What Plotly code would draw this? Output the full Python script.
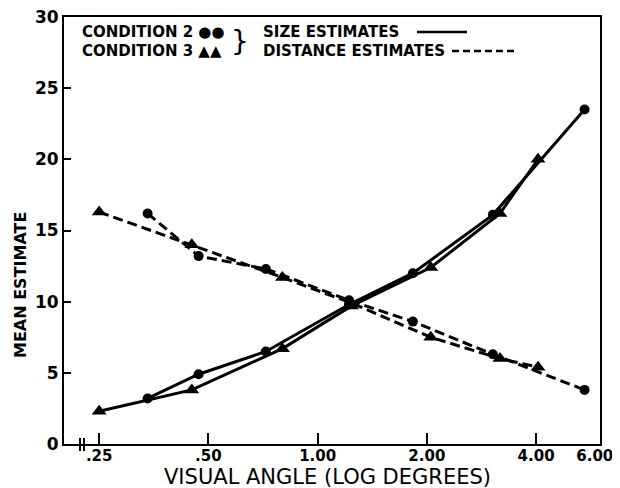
import plotly.graph_objects as go

# Condition 2 (circles)
cond2_angle = [0.34, 0.47, 0.72, 1.22, 1.83, 3.04, 5.44]
cond2_size = [3.2, 4.9, 6.5, 9.8, 12.0, 16.1, 23.5]
cond2_distance = [16.2, 13.2, 12.3, 10.1, 8.6, 6.3, 3.8]

# Condition 3 (triangles)
cond3_angle = [0.25, 0.45, 0.80, 1.24, 2.05, 3.18, 4.05]
cond3_size = [2.3, 3.8, 6.7, 9.7, 12.4, 16.2, 20.0]
cond3_distance = [16.3, 14.0, 11.7, 9.9, 7.5, 6.0, 5.4]

x_tickvals = [0.25, 0.5, 1.0, 2.0, 4.0, 6.0]
x_ticktext = [".25", ".50", "1.00", "2.00", "4.00", "6.00\u00a0\u00a0"]
y_tickvals = [0, 5, 10, 15, 20, 25, 30]

FONT = "DejaVu Sans"
fig = go.Figure()

def add(x, y, dash, symbol, size):
    fig.add_trace(go.Scatter(
        x=x, y=y, mode="lines+markers",
        line=dict(color="black", width=3, dash=dash),
        marker=dict(symbol=symbol, size=size, color="black"),
        showlegend=False))

add(cond2_angle, cond2_size, "solid", "circle", 10)
add(cond3_angle, cond3_size, "solid", "triangle-up", 13)
add(cond2_angle, cond2_distance, "10px,5px", "circle", 10)
add(cond3_angle, cond3_distance, "10px,5px", "triangle-up", 13)

# page offset (body margin) compensation
OFF = 8
W, H = 620 - OFF, 488 - OFF
# target page-pixel plot box
PL, PR, PT, PB = 64, 600, 17, 444
L, T = PL - OFF, PT - OFF
R = W - (PR - OFF)
B = H - (PB - OFF)
pw, ph = W - L - R, H - T - B

def px(xp):
    return (xp - OFF - L) / pw
def py(yp):
    return (H - B - (yp - OFF)) / ph

fig.update_layout(
    width=W, height=H,
    margin=dict(l=L, r=R, t=T, b=B, autoexpand=False),
    plot_bgcolor="white", paper_bgcolor="white",
    xaxis=dict(type="log", range=[-0.69897, 0.778151],
               tickvals=x_tickvals, ticktext=x_ticktext,
               ticks="inside", ticklen=11, tickwidth=2, tickcolor="black",
               showline=True, linewidth=2, linecolor="black", mirror=True,
               showgrid=False, zeroline=False, ticklabelstandoff=-3,
               ticklabeloverflow="allow",
               tickfont=dict(family=FONT, size=15, color="black", weight="bold")),
    yaxis=dict(range=[0, 30], tickvals=y_tickvals,
               ticks="inside", ticklen=7, tickwidth=2, tickcolor="black",
               showline=True, linewidth=2, linecolor="black", mirror=True,
               showgrid=False, zeroline=False, ticklabeloverflow="allow",
               tickfont=dict(family=FONT, size=17, color="black", weight="bold")),
)

lf = dict(family=FONT, size=15, color="black", weight="bold")
ann = [
    dict(text="CONDITION 2 ●●", x=px(80), y=py(32), xanchor="left", yanchor="middle", font=lf),
    dict(text="CONDITION 3 ▲▲", x=px(80), y=py(51), xanchor="left", yanchor="middle", font=lf),
    dict(text="}", x=px(240), y=py(42), xanchor="center", yanchor="middle",
         font=dict(family=FONT, size=28, color="black")),
    dict(text="SIZE ESTIMATES", x=px(261), y=py(32), xanchor="left", yanchor="middle", font=lf),
    dict(text="DISTANCE ESTIMATES", x=px(261), y=py(51), xanchor="left", yanchor="middle", font=lf),
    dict(text="MEAN ESTIMATE", x=px(20), y=py(285), textangle=-90, xanchor="center", yanchor="middle",
         font=dict(family=FONT, size=16, color="black", weight="bold")),
    dict(text="VISUAL ANGLE (LOG DEGREES)", x=px(327), y=py(477), xanchor="center", yanchor="middle",
         font=dict(family=FONT, size=21, color="black")),
]
for a in ann:
    a.update(xref="paper", yref="paper", showarrow=False)
    fig.add_annotation(**a)

shapes = [
    dict(type="line", x0=px(417), x1=px(467), y0=py(32), y1=py(32), line=dict(color="black", width=2.5)),
    dict(type="line", x0=px(452), x1=px(518), y0=py(51), y1=py(51), line=dict(color="black", width=2.5, dash="7px,4px")),
    dict(type="line", x0=px(80), x1=px(80), y0=py(438), y1=py(451), line=dict(color="black", width=2)),
    dict(type="line", x0=px(84), x1=px(84), y0=py(438), y1=py(451), line=dict(color="black", width=2)),
]
for s in shapes:
    s.update(xref="paper", yref="paper")
    fig.add_shape(**s)

fig.write_html("out.html")
